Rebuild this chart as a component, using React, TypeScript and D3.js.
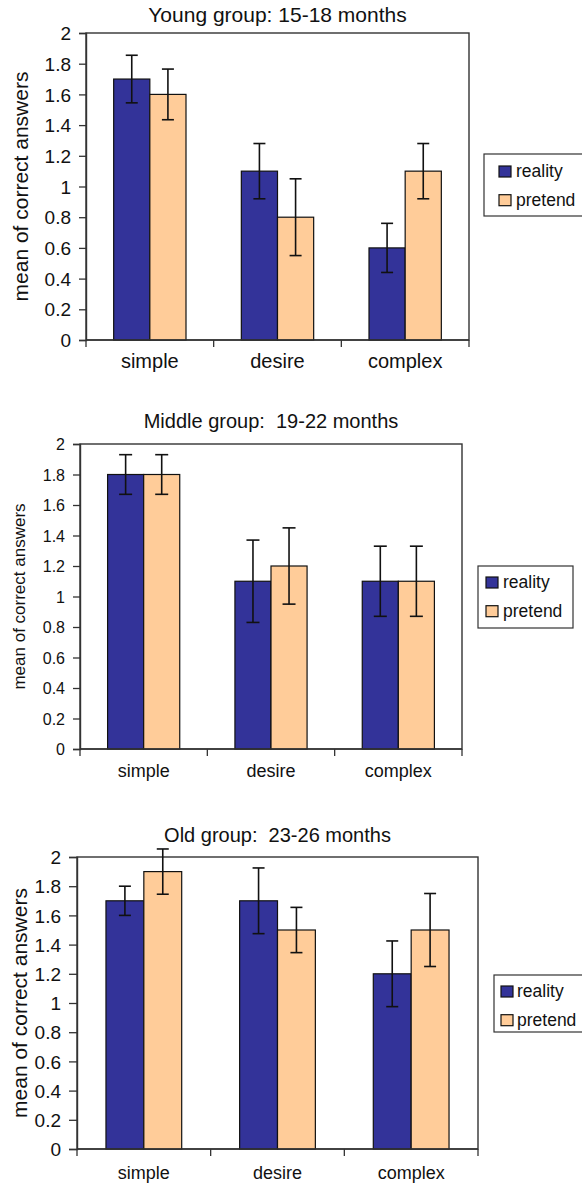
import React, { useEffect, useRef } from "react";
import * as d3 from "d3";

// categories and series
const categories = ["simple", "desire", "complex"];
const seriesNames = ["reality", "pretend"];
const seriesColors = ["#333399", "#ffcc99"];
const yTicks = [0, 0.2, 0.4, 0.6, 0.8, 1, 1.2, 1.4, 1.6, 1.8, 2];
const yLabel = "mean of correct answers";

// young group: 15-18 months
const youngReality = [1.7, 1.1, 0.6];
const youngRealityErr = [0.155, 0.18, 0.16];
const youngPretend = [1.6, 0.8, 1.1];
const youngPretendErr = [0.165, 0.25, 0.18];

// middle group: 19-22 months
const middleReality = [1.8, 1.1, 1.1];
const middleRealityErr = [0.13, 0.27, 0.23];
const middlePretend = [1.8, 1.2, 1.1];
const middlePretendErr = [0.13, 0.25, 0.23];

// old group: 23-26 months
const oldReality = [1.7, 1.7, 1.2];
const oldRealityErr = [0.1, 0.225, 0.225];
const oldPretend = [1.9, 1.5, 1.5];
const oldPretendErr = [0.155, 0.155, 0.25];

const FONT = "'Liberation Sans', Arial, Helvetica, sans-serif";

const panels = [
  {
    title: "Young group: 15-18 months",
    values: [youngReality, youngPretend],
    errors: [youngRealityErr, youngPretendErr],
    left: 86, right: 469, top: 33, bottom: 340, titleY: 22, titleFont: 21,
    tickFont: 19, xFont: 20, yLabFont: 21, yLabX: 28, tickLen: 7, capW: 12,
    xLabDy: 28,
    legend: { x: 484, y: 154, w: 110, h: 62, sw: 15, tx: 32, ty: 23 },
  },
  {
    title: "Middle group:  19-22 months",
    values: [middleReality, middlePretend],
    errors: [middleRealityErr, middlePretendErr],
    left: 80, right: 462, top: 444, bottom: 749, titleY: 428, titleFont: 20,
    tickFont: 16, xFont: 18, yLabFont: 17, yLabX: 25, tickLen: 7, capW: 13,
    xLabDy: 28,
    legend: { x: 478, y: 566, w: 95, h: 62, sw: 8, tx: 25, ty: 22 },
  },
  {
    title: "Old group:  23-26 months",
    values: [oldReality, oldPretend],
    errors: [oldRealityErr, oldPretendErr],
    left: 77, right: 478, top: 857, bottom: 1149, titleY: 842, titleFont: 20,
    tickFont: 19, xFont: 18, yLabFont: 21, yLabX: 27, tickLen: 8, capW: 12,
    xLabDy: 30,
    legend: { x: 494, y: 975, w: 110, h: 57, sw: 7, tx: 23, ty: 22 },
  },
];

const drawPanel = (svg, p) => {
  const g = svg.append("g").attr("font-family", FONT).attr("fill", "#111");

  const y = d3.scaleLinear().domain([0, 2]).range([p.bottom, p.top]);
  const x0 = d3.scaleBand().domain(categories).range([p.left, p.right]);
  const x1 = d3.scaleBand().domain(seriesNames).range([0, x0.bandwidth()]).paddingOuter(0.765);

  // title (keep the double spaces)
  g.append("text")
    .attr("x", (p.left + p.right) / 2)
    .attr("y", p.titleY)
    .attr("text-anchor", "middle")
    .attr("font-size", p.titleFont)
    .style("white-space", "pre")
    .text(p.title);

  // plot frame
  g.append("rect")
    .attr("x", p.left).attr("y", p.top)
    .attr("width", p.right - p.left).attr("height", p.bottom - p.top)
    .attr("fill", "white").attr("stroke", "#333").attr("stroke-width", 1.4);

  // bars
  seriesNames.forEach((s, si) => {
    g.append("g").selectAll("rect")
      .data(categories)
      .join("rect")
      .attr("x", (c) => x0(c) + x1(s))
      .attr("y", (c, i) => y(p.values[si][i]))
      .attr("width", x1.bandwidth())
      .attr("height", (c, i) => y(0) - y(p.values[si][i]))
      .attr("fill", seriesColors[si])
      .attr("stroke", "#111")
      .attr("stroke-width", 1.2);
  });

  // error bars
  seriesNames.forEach((s, si) => {
    categories.forEach((c, i) => {
      const cx = x0(c) + x1(s) + x1.bandwidth() / 2;
      const v = p.values[si][i], e = p.errors[si][i];
      const eg = g.append("g").attr("stroke", "#111").attr("stroke-width", 1.6);
      eg.append("line").attr("x1", cx).attr("x2", cx).attr("y1", y(v + e)).attr("y2", y(v - e));
      eg.append("line").attr("x1", cx - p.capW / 2).attr("x2", cx + p.capW / 2).attr("y1", y(v + e)).attr("y2", y(v + e));
      eg.append("line").attr("x1", cx - p.capW / 2).attr("x2", cx + p.capW / 2).attr("y1", y(v - e)).attr("y2", y(v - e));
    });
  });

  // y axis
  const ya = g.append("g")
    .attr("transform", `translate(${p.left},0)`)
    .call(d3.axisLeft(y).tickValues(yTicks).tickSize(p.tickLen).tickPadding(8).tickFormat(d3.format("")));
  ya.select(".domain").attr("stroke", "#333").attr("stroke-width", 1.4);
  ya.selectAll(".tick line").attr("stroke", "#333").attr("stroke-width", 1.3);
  ya.selectAll(".tick text")
    .attr("font-family", FONT).attr("font-size", p.tickFont).attr("fill", "#111")
    .attr("dy", "0.35em");

  // x axis: boundary ticks and category labels
  const boundaries = categories.map((c) => x0(c)).concat([p.right]);
  g.append("g").selectAll("line")
    .data(boundaries)
    .join("line")
    .attr("x1", (d) => d).attr("x2", (d) => d)
    .attr("y1", y(0)).attr("y2", y(0) + 7)
    .attr("stroke", "#333").attr("stroke-width", 1.3);
  g.append("line")
    .attr("x1", p.left).attr("x2", p.right).attr("y1", y(0)).attr("y2", y(0))
    .attr("stroke", "#333").attr("stroke-width", 1.6);
  g.append("g").selectAll("text")
    .data(categories)
    .join("text")
    .attr("x", (c) => x0(c) + x0.bandwidth() / 2)
    .attr("y", y(0) + p.xLabDy)
    .attr("text-anchor", "middle")
    .attr("font-size", p.xFont)
    .text((c) => c);

  // y label
  g.append("text")
    .attr("transform", `translate(${p.yLabX},${(p.top + p.bottom) / 2}) rotate(-90)`)
    .attr("text-anchor", "middle")
    .attr("font-size", p.yLabFont)
    .text(yLabel);

  // legend
  const L = p.legend;
  g.append("rect")
    .attr("x", L.x).attr("y", L.y).attr("width", L.w).attr("height", L.h)
    .attr("fill", "white").attr("stroke", "#333").attr("stroke-width", 1.2);
  seriesNames.forEach((s, si) => {
    const rowY = L.y + L.ty + si * 28.7;
    g.append("rect")
      .attr("x", L.x + L.sw).attr("y", rowY - 11)
      .attr("width", 12).attr("height", 11)
      .attr("fill", seriesColors[si]).attr("stroke", "#111").attr("stroke-width", 1.2);
    g.append("text")
      .attr("x", L.x + L.tx).attr("y", rowY)
      .attr("font-size", 17.5)
      .text(s);
  });
};

function App() {
  const ref = useRef(null);

  useEffect(() => {
    const svg = d3.select(ref.current);
    svg.selectAll("*").remove();
    panels.forEach((p) => drawPanel(svg, p));
  }, []);

  return (
    <svg
      ref={ref}
      width={582}
      height={1185}
      style={{ position: "absolute", left: 0, top: 0, background: "white" }}
    />
  );
}

export default App;
